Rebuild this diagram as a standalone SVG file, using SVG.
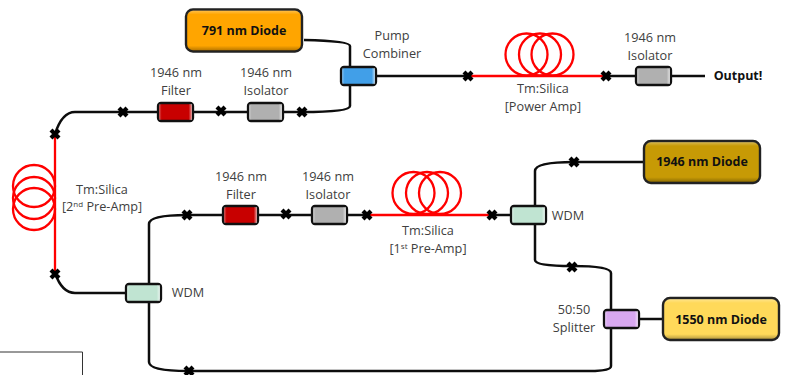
<svg xmlns="http://www.w3.org/2000/svg" width="786" height="375" viewBox="0 0 786 375">
<style>
text{font-family:"Open Sans","Noto Sans","Liberation Sans",sans-serif;font-size:12.7px;fill:#404040;text-anchor:middle}
.b{font-weight:700;fill:#111;font-size:12.5px}
.f{fill:none;stroke:#0d0d0d;stroke-width:2.5}
.r{fill:none;stroke:#f00;stroke-width:2.3}
.x{fill:none;stroke:#000;stroke-width:4.2}
.c{stroke:#111;stroke-width:2.3}
.d{stroke:#222;stroke-width:2.4}
.h{stroke:none;fill:url(#sheen)}
.v{stroke:none;fill:url(#bevel)}
</style>
<defs>
<g id="x"><path class="x" d="M-4,-4L4,4M-4,4L4,-4"/></g>
<linearGradient id="sheen" x1="0" x2="1" y1="0" y2="0">
<stop offset="0" stop-color="#fff" stop-opacity=".35"/><stop offset=".08" stop-color="#fff" stop-opacity="0"/><stop offset=".9" stop-color="#fff" stop-opacity="0"/><stop offset="1" stop-color="#fff" stop-opacity=".65"/>
</linearGradient>
<linearGradient id="bevel" x1="0" x2="0" y1="0" y2="1">
<stop offset="0" stop-color="#fff" stop-opacity=".3"/><stop offset=".1" stop-color="#fff" stop-opacity="0"/><stop offset=".88" stop-color="#000" stop-opacity="0"/><stop offset="1" stop-color="#000" stop-opacity=".28"/>
</linearGradient>
</defs>
<g id="connectors">
<path class="f" d="M304,40Q350,41 350,46V68M350,85V106Q350,112 302,112H75Q62,112 55,134"/>
<path class="f" d="M376,76H468"/>
<path class="f" d="M606,76H705"/>
<path class="r" d="M468,76H606"/>
<path class="r" d="M55,134V273"/>
<path class="f" d="M55,273Q62,293 75,293H126"/>
<path class="f" d="M149,284V224Q149,215 187,215H367"/>
<path class="f" d="M492,215H510"/>
<path class="r" d="M367,215H492"/>
<path class="f" d="M149,302V362Q149,371 188,371H590Q611,371 611,366V328"/>
<path class="f" d="M535,206V171Q535,162 574,162H644"/>
<path class="f" d="M535,224V260Q535,266 572,266Q611,266 611,273V310"/>
<path class="f" d="M639,319H664"/>
</g>
<g id="coil-power"><circle class="r" cx="526.500" cy="54.500" r="21"/><circle class="r" cx="540" cy="54.500" r="21"/><circle class="r" cx="552.500" cy="54.500" r="21"/></g>
<g id="coil-pre1"><circle class="r" cx="413.500" cy="193" r="21"/><circle class="r" cx="427" cy="193" r="21"/><circle class="r" cx="440" cy="193" r="21"/></g>
<g id="coil-pre2"><circle class="r" cx="34" cy="186" r="21"/><circle class="r" cx="34" cy="198" r="21"/><circle class="r" cx="34" cy="209" r="21"/></g>
<g id="splices">
<use href="#x" x="123" y="112"/><use href="#x" x="221" y="111"/><use href="#x" x="302" y="112"/><use href="#x" x="55" y="134"/><use href="#x" x="55" y="274"/>
<use href="#x" x="468" y="76"/><use href="#x" x="606" y="76"/><use href="#x" x="574" y="162"/>
<use href="#x" x="187" y="215"/><use href="#x" x="286" y="214"/><use href="#x" x="367" y="215"/><use href="#x" x="492" y="215"/><use href="#x" x="572" y="267"/><use href="#x" x="189" y="371"/>
</g>
<g id="diode-791"><rect class="d" x="186" y="9.500" width="116" height="42" rx="7" fill="#ffa500"/><rect class="v" x="187" y="10.500" width="114" height="40" rx="6"/><text class="b" x="244" y="35">791 nm Diode</text></g>
<g id="diode-1946"><rect class="d" x="644" y="141" width="116" height="42" rx="7" fill="#c79a05"/><rect class="v" x="645" y="142" width="114" height="40" rx="6"/><text class="b" x="702" y="166">1946 nm Diode</text></g>
<g id="diode-1550"><rect class="d" x="663" y="298" width="116" height="42" rx="7" fill="#ffd95a"/><rect class="v" x="664" y="299" width="114" height="40" rx="6"/><text class="b" x="721" y="324">1550 nm Diode</text></g>
<g id="combiner"><rect class="c" x="341" y="67" width="35" height="18" rx="3" fill="#419fe8"/><rect class="h" x="342" y="68" width="33" height="16"/><text x="392" y="40">Pump</text><text x="392" y="58">Combiner</text></g>
<g id="filter-1"><rect class="c" x="158" y="103" width="35" height="18" rx="3" fill="#c80000"/><rect class="h" x="159" y="104" width="33" height="16"/><text x="176" y="77">1946 nm</text><text x="176" y="95">Filter</text></g>
<g id="isolator-1"><rect class="c" x="248" y="103" width="35" height="18" rx="3" fill="#b0b0b0"/><rect class="h" x="249" y="104" width="33" height="16"/><text x="266" y="77">1946 nm</text><text x="266" y="95">Isolator</text></g>
<g id="isolator-out"><rect class="c" x="636" y="67" width="35" height="18" rx="3" fill="#b0b0b0"/><rect class="h" x="637" y="68" width="33" height="16"/><text x="650" y="42">1946 nm</text><text x="650" y="60">Isolator</text></g>
<g id="filter-2"><rect class="c" x="223" y="206" width="35" height="18" rx="3" fill="#c80000"/><rect class="h" x="224" y="207" width="33" height="16"/><text x="241" y="181">1946 nm</text><text x="241" y="199">Filter</text></g>
<g id="isolator-2"><rect class="c" x="312" y="206" width="35" height="18" rx="3" fill="#b0b0b0"/><rect class="h" x="313" y="207" width="33" height="16"/><text x="328" y="181">1946 nm</text><text x="328" y="199">Isolator</text></g>
<g id="wdm-1"><rect class="c" x="511" y="206" width="35" height="18" rx="3" fill="#c0e4d2"/><rect class="h" x="512" y="207" width="33" height="16"/><text x="568" y="220">WDM</text></g>
<g id="wdm-2"><rect class="c" x="126" y="284" width="35" height="18" rx="3" fill="#c0e4d2"/><rect class="h" x="127" y="285" width="33" height="16"/><text x="188" y="297">WDM</text></g>
<g id="splitter"><rect class="c" x="604" y="310" width="35" height="18" rx="3" fill="#d8a8f0"/><rect class="h" x="605" y="311" width="33" height="16"/><text x="574" y="314">50:50</text><text x="574" y="332">Splitter</text></g>
<g id="labels">
<text x="543" y="93">Tm:Silica</text><text x="543" y="111">[Power Amp]</text>
<text x="428" y="235">Tm:Silica</text><text x="428" y="253">[1<tspan font-size="8" dy="-4">st</tspan><tspan dy="4"> Pre-Amp]</tspan></text>
<text x="102" y="194">Tm:Silica</text><text x="102" y="211">[2<tspan font-size="8" dy="-4">nd</tspan><tspan dy="4"> Pre-Amp]</tspan></text>
<text class="b" x="738" y="80">Output!</text>
</g>
<path id="box" d="M0,352H82.500V375" fill="none" stroke="#333" stroke-width="1"/>
</svg>
